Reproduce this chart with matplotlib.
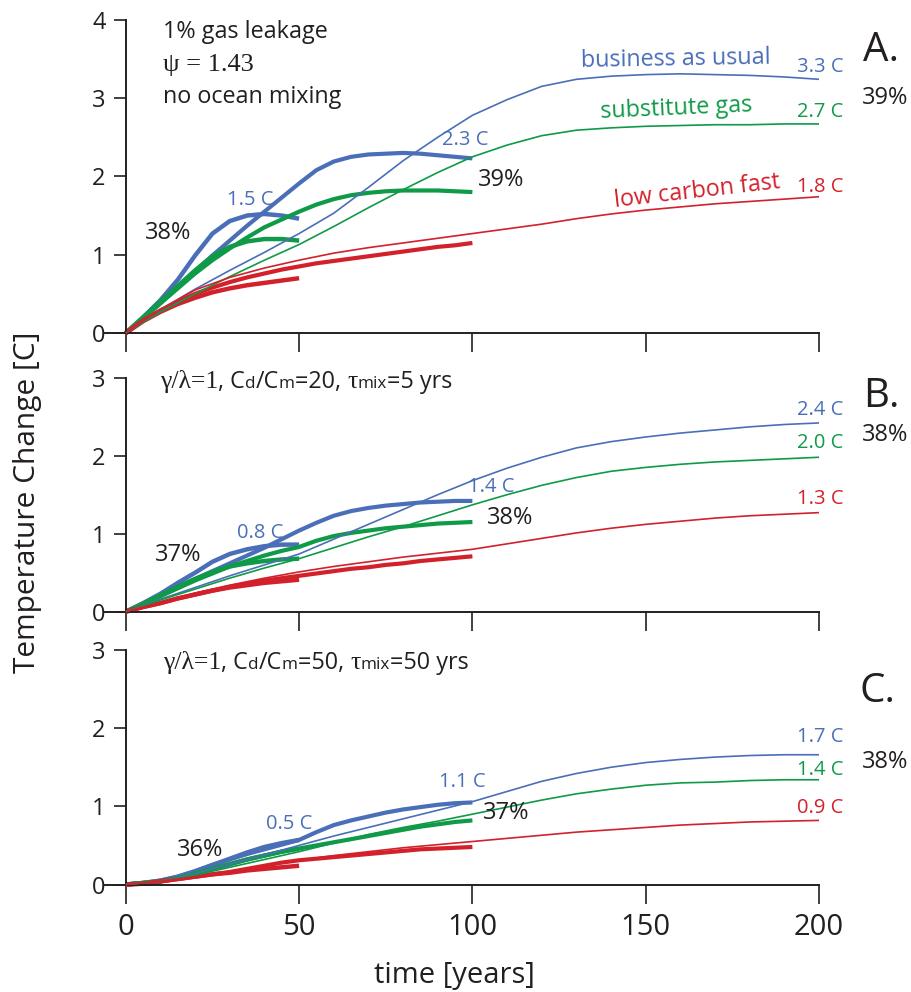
import matplotlib
matplotlib.use("Agg")
import matplotlib.pyplot as plt
from matplotlib.offsetbox import TextArea, HPacker, AnchoredOffsetbox

plt.rcParams['font.family'] = ['Open Sans', 'DejaVu Sans']

# ---------------- data ----------------
t5_50 = [0, 5, 10, 15, 20, 25, 30, 35, 40, 45, 50]
t5_100 = [0, 5, 10, 15, 20, 25, 30, 35, 40, 45, 50, 55, 60, 65, 70, 75, 80, 85, 90, 95, 100]
t10_200 = [0, 10, 20, 30, 40, 50, 60, 70, 80, 90, 100, 110, 120, 130, 140, 150, 160, 170, 180, 190, 200]

# Panel A
A_bau_50 = [0, 0.2, 0.42, 0.68, 0.99, 1.27, 1.43, 1.50, 1.52, 1.50, 1.46]
A_bau_100 = [0, 0.18, 0.38, 0.58, 0.79, 0.99, 1.18, 1.37, 1.55, 1.73, 1.91, 2.08, 2.19, 2.25, 2.28, 2.29, 2.30, 2.29, 2.27, 2.25, 2.23]
A_bau_200 = [0, 0.3, 0.56, 0.8, 1.03, 1.27, 1.53, 1.86, 2.2, 2.5, 2.78, 2.98, 3.15, 3.24, 3.28, 3.30, 3.31, 3.30, 3.29, 3.27, 3.24]
A_gas_50 = [0, 0.2, 0.4, 0.6, 0.8, 0.98, 1.1, 1.17, 1.2, 1.2, 1.18]
A_gas_100 = [0, 0.19, 0.38, 0.57, 0.76, 0.93, 1.08, 1.22, 1.35, 1.45, 1.55, 1.64, 1.71, 1.76, 1.79, 1.81, 1.82, 1.82, 1.82, 1.81, 1.80]
A_gas_200 = [0, 0.27, 0.5, 0.72, 0.93, 1.13, 1.36, 1.6, 1.83, 2.05, 2.25, 2.4, 2.52, 2.59, 2.62, 2.64, 2.65, 2.66, 2.66, 2.67, 2.67]
A_low_50 = [0, 0.15, 0.27, 0.37, 0.45, 0.52, 0.57, 0.61, 0.64, 0.67, 0.70]
A_low_100 = [0, 0.16, 0.29, 0.4, 0.5, 0.58, 0.65, 0.71, 0.76, 0.81, 0.85, 0.89, 0.92, 0.95, 0.98, 1.01, 1.04, 1.07, 1.1, 1.12, 1.15]
A_low_200 = [0, 0.3, 0.55, 0.71, 0.83, 0.93, 1.02, 1.09, 1.15, 1.21, 1.27, 1.33, 1.39, 1.46, 1.52, 1.57, 1.61, 1.65, 1.68, 1.71, 1.74]

# Panel B
B_bau_50 = [0, 0.11, 0.23, 0.37, 0.5, 0.64, 0.74, 0.8, 0.84, 0.86, 0.86]
B_bau_100 = [0, 0.1, 0.2, 0.31, 0.42, 0.52, 0.62, 0.72, 0.82, 0.93, 1.04, 1.14, 1.23, 1.29, 1.33, 1.36, 1.38, 1.4, 1.41, 1.42, 1.42]
B_bau_200 = [0, 0.16, 0.31, 0.46, 0.6, 0.74, 0.93, 1.12, 1.31, 1.5, 1.68, 1.84, 1.98, 2.1, 2.18, 2.24, 2.29, 2.33, 2.37, 2.4, 2.42]
B_gas_50 = [0, 0.1, 0.21, 0.32, 0.42, 0.51, 0.58, 0.62, 0.65, 0.67, 0.68]
B_gas_100 = [0, 0.1, 0.2, 0.3, 0.4, 0.49, 0.58, 0.65, 0.72, 0.78, 0.83, 0.91, 0.97, 1.01, 1.04, 1.07, 1.09, 1.11, 1.13, 1.14, 1.15]
B_gas_200 = [0, 0.15, 0.29, 0.43, 0.56, 0.68, 0.82, 0.96, 1.09, 1.23, 1.37, 1.5, 1.62, 1.72, 1.8, 1.85, 1.89, 1.92, 1.94, 1.96, 1.98]
B_low_50 = [0, 0.06, 0.11, 0.17, 0.22, 0.27, 0.31, 0.34, 0.37, 0.39, 0.41]
B_low_100 = [0, 0.06, 0.11, 0.17, 0.22, 0.27, 0.32, 0.36, 0.4, 0.43, 0.46, 0.49, 0.52, 0.55, 0.57, 0.6, 0.62, 0.65, 0.67, 0.69, 0.71]
B_low_200 = [0, 0.12, 0.24, 0.34, 0.43, 0.51, 0.58, 0.64, 0.7, 0.75, 0.8, 0.87, 0.94, 1.01, 1.07, 1.12, 1.16, 1.2, 1.23, 1.25, 1.27]

# Panel C
C_bau_50 = [0, 0.02, 0.05, 0.1, 0.17, 0.25, 0.33, 0.41, 0.48, 0.53, 0.57]
C_bau_100 = [0, 0.02, 0.05, 0.1, 0.17, 0.25, 0.32, 0.39, 0.45, 0.51, 0.57, 0.67, 0.76, 0.82, 0.87, 0.92, 0.96, 0.99, 1.02, 1.04, 1.05]
C_bau_200 = [0, 0.04, 0.14, 0.26, 0.38, 0.5, 0.62, 0.73, 0.84, 0.95, 1.06, 1.19, 1.32, 1.42, 1.5, 1.56, 1.6, 1.63, 1.65, 1.66, 1.66]
C_gas_50 = [0, 0.02, 0.04, 0.08, 0.14, 0.2, 0.26, 0.32, 0.37, 0.42, 0.46]
C_gas_100 = [0, 0.02, 0.04, 0.08, 0.14, 0.2, 0.26, 0.32, 0.37, 0.42, 0.46, 0.5, 0.54, 0.58, 0.62, 0.66, 0.7, 0.74, 0.77, 0.8, 0.82]
C_gas_200 = [0, 0.04, 0.12, 0.22, 0.32, 0.42, 0.53, 0.64, 0.73, 0.81, 0.9, 0.99, 1.08, 1.16, 1.22, 1.27, 1.3, 1.31, 1.33, 1.34, 1.34]
C_low_50 = [0, 0.01, 0.04, 0.07, 0.1, 0.13, 0.15, 0.18, 0.2, 0.22, 0.24]
C_low_100 = [0, 0.01, 0.04, 0.07, 0.1, 0.13, 0.16, 0.2, 0.24, 0.28, 0.31, 0.33, 0.35, 0.37, 0.39, 0.41, 0.43, 0.45, 0.46, 0.47, 0.48]
C_low_200 = [0, 0.04, 0.1, 0.17, 0.24, 0.31, 0.37, 0.42, 0.47, 0.51, 0.55, 0.59, 0.63, 0.67, 0.7, 0.73, 0.76, 0.78, 0.8, 0.81, 0.82]

x_ticks = [0, 50, 100, 150, 200]
x_ticklabels = ["0", "50", "100", "150", "200"]
yticks_A = [0, 1, 2, 3, 4]
yticks_BC = [0, 1, 2, 3]

BLUE = "#4a6fb8"
GREEN = "#0f9a48"
RED = "#d3212c"
INK = "#231f20"

# ---------------- figure ----------------
W, H = 912, 992
fig = plt.figure(figsize=(W / 100, H / 100), dpi=100)

def px_axes(left, top, right, bottom):
    return fig.add_axes([left / W, 1 - bottom / H, (right - left) / W, (bottom - top) / H])

axA = px_axes(105, 19.8, 819, 333)
axB = px_axes(105, 377.7, 819, 611.7)
axC = px_axes(105, 650, 819, 884.5)

panels = [
    (axA, 4, yticks_A,
     [(A_bau_50, A_bau_100, A_bau_200, BLUE), (A_gas_50, A_gas_100, A_gas_200, GREEN),
      (A_low_50, A_low_100, A_low_200, RED)]),
    (axB, 3, yticks_BC,
     [(B_bau_50, B_bau_100, B_bau_200, BLUE), (B_gas_50, B_gas_100, B_gas_200, GREEN),
      (B_low_50, B_low_100, B_low_200, RED)]),
    (axC, 3, yticks_BC,
     [(C_bau_50, C_bau_100, C_bau_200, BLUE), (C_gas_50, C_gas_100, C_gas_200, GREEN),
      (C_low_50, C_low_100, C_low_200, RED)]),
]

for i, (ax, ytop, yt, series) in enumerate(panels):
    for s50, s100, s200, col in series:
        ax.plot(t5_100, s100, color=col, lw=3.0, solid_capstyle='butt', solid_joinstyle='round',
                clip_on=False, zorder=2)
        ax.plot(t5_50, s50, color=col, lw=3.2, solid_capstyle='butt', solid_joinstyle='round',
                clip_on=False, zorder=2)
    for s50, s100, s200, col in series:
        ax.plot(t10_200, s200, color=col, lw=1.2, solid_capstyle='butt', solid_joinstyle='round',
                clip_on=False, zorder=3)
    ax.set_xlim(-6, 200)
    ax.set_ylim(0, ytop)
    ax.spines['top'].set_visible(False)
    ax.spines['right'].set_visible(False)
    ax.spines['left'].set_position(('data', 0))
    for sp in ('left', 'bottom'):
        ax.spines[sp].set_linewidth(1.4)
        ax.spines[sp].set_color(INK)
    ax.set_xticks(x_ticks)
    ax.set_yticks(yt)
    ax.set_yticklabels([str(v) for v in yt])
    ax.tick_params(axis='x', direction='out', length=13.5, width=1.2, color=INK, pad=7,
                   labelsize=21, labelcolor=INK)
    ax.tick_params(axis='y', direction='out', length=8.5, width=1.2, color=INK, pad=6,
                   labelsize=17, labelcolor=INK)
    if i < 2:
        ax.set_xticklabels([])
    else:
        ax.set_xticklabels(x_ticklabels)
    ax.patch.set_visible(False)

def txt(ax, x, y, s, color=INK, size=16, ha='center', rot=0, **kw):
    ax.text(x, y, s, color=color, fontsize=size, ha=ha, va='center', rotation=rot,
            rotation_mode='anchor', clip_on=False, **kw)

SERIF = ['Liberation Serif', 'DejaVu Serif']
SANS = ['Open Sans', 'DejaVu Sans']

# ---- Panel A text ----
txt(axA, 10.8, 3.84, "1% gas leakage", ha='left', size=16.8)
txt(axA, 10.8, 3.42, "\u03c8 = 1.43", ha='left', size=19, family=SERIF)
txt(axA, 10.8, 3.01, "no ocean mixing", ha='left', size=16.8)
txt(axA, 35.9, 1.70, "1.5 C", color=BLUE, size=14.5)
txt(axA, 12.2, 1.28, "38%", size=17)
txt(axA, 97.9, 2.46, "2.3 C", color=BLUE, size=14.5)
txt(axA, 108.3, 1.95, "39%", size=17)
txt(axA, 158.7, 3.49, "business as usual", color=BLUE, size=16.8, rot=1)
txt(axA, 158.7, 2.87, "substitute gas", color=GREEN, size=16.8, rot=2.5)
txt(axA, 164.8, 1.80, "low carbon fast", color=RED, size=16.8, rot=6.5)
txt(axA, 200.3, 3.40, "3.3 C", color=BLUE, size=14.5)
txt(axA, 200.3, 2.82, "2.7 C", color=GREEN, size=14.5)
txt(axA, 200.3, 1.86, "1.8 C", color=RED, size=14.5)
txt(axA, 217.9, 3.61, "A.", size=29)
txt(axA, 219.0, 3.00, "39%", size=17)

# ---- Panel B text ----
txt(axB, 38.7, 1.01, "0.8 C", color=BLUE, size=14.5)
txt(axB, 15.1, 0.73, "37%", size=17)
txt(axB, 105.4, 1.60, "1.4 C", color=BLUE, size=14.5)
txt(axB, 110.8, 1.20, "38%", size=17)
txt(axB, 200.3, 2.59, "2.4 C", color=BLUE, size=14.5)
txt(axB, 200.3, 2.16, "2.0 C", color=GREEN, size=14.5)
txt(axB, 200.3, 1.44, "1.3 C", color=RED, size=14.5)
txt(axB, 217.9, 2.75, "B.", size=29)
txt(axB, 219.0, 2.27, "38%", size=17)

# ---- Panel C text ----
txt(axC, 47.1, 0.77, "0.5 C", color=BLUE, size=14.5)
txt(axC, 21.4, 0.44, "36%", size=17)
txt(axC, 97.0, 1.31, "1.1 C", color=BLUE, size=14.5)
txt(axC, 109.7, 0.91, "37%", size=17)
txt(axC, 200.3, 1.89, "1.7 C", color=BLUE, size=14.5)
txt(axC, 200.3, 1.46, "1.4 C", color=GREEN, size=14.5)
txt(axC, 200.3, 0.98, "0.9 C", color=RED, size=14.5)
txt(axC, 217.0, 2.46, "C.", size=29)
txt(axC, 219.0, 1.57, "38%", size=17)

def mixed(ax, x, y, parts):
    children = [TextArea(s, textprops=dict(fontsize=fs, family=fam, color=INK)) for s, fs, fam in parts]
    box = HPacker(children=children, align='baseline', pad=0, sep=0)
    ab = AnchoredOffsetbox(loc='center left', child=box, pad=0, borderpad=0, frameon=False,
                           bbox_to_anchor=(x, y), bbox_transform=ax.transData)
    ab.set_clip_on(False)
    ax.add_artist(ab)

def params_parts(ratio, tau):
    return [("\u03b3/\u03bb=1", 18.5, SERIF), (", C", 16.8, SANS), ("d", 12.3, SANS), ("/C", 16.8, SANS),
            ("m", 12.3, SANS), ("=%s, " % ratio, 16.8, SANS), ("\u03c4", 18.5, SERIF), ("mix", 12.3, SANS),
            ("=%s yrs" % tau, 16.8, SANS)]

mixed(axB, 9.9, 2.94, params_parts("20", "5"))
mixed(axC, 10.8, 2.83, params_parts("50", "50"))

# ---- axis labels ----
fig.text(28 / W, 1 - 502 / H, "Temperature Change [C]", rotation=90, ha='center', va='center',
         fontsize=21.5, color=INK)
fig.text(454 / W, 1 - 976 / H, "time [years]", ha='center', va='center', fontsize=21, color=INK)

fig.savefig("out.png", dpi=100)
